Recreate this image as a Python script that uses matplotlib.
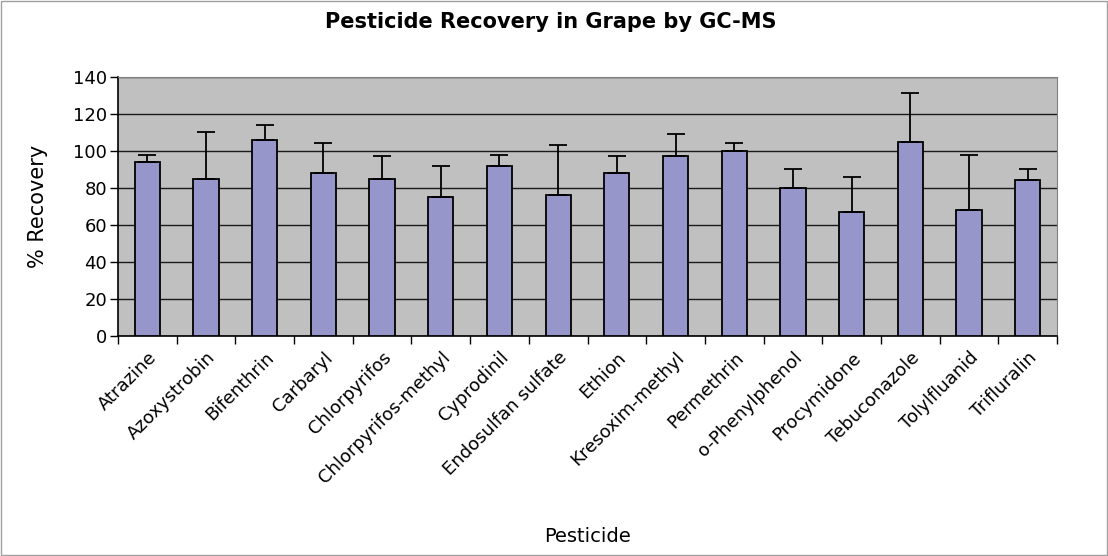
import matplotlib
matplotlib.use('Agg')
import matplotlib.pyplot as plt
import matplotlib.transforms as mtransforms
import numpy as np
from matplotlib.patches import Rectangle

# ── Data ──────────────────────────────────────────────────────────────────────
pesticides = ['Atrazine', 'Azoxystrobin', 'Bifenthrin', 'Carbaryl', 'Chlorpyrifos',
              'Chlorpyrifos-methyl', 'Cyprodinil', 'Endosulfan sulfate', 'Ethion',
              'Kresoxim-methyl', 'Permethrin', 'o-Phenylphenol', 'Procymidone',
              'Tebuconazole', 'Tolylfluanid', 'Trifluralin']
recovery = [94, 85, 106, 88, 85, 75, 92, 76, 88, 97, 100, 80, 67, 105, 68, 84]
error_up = [4, 25, 8, 16, 12, 17, 6, 27, 9, 12, 4, 10, 19, 26, 30, 6]
y_ticks = [0, 20, 40, 60, 80, 100, 120, 140]

FONT = 'DejaVu Sans'
plt.rcParams['font.family'] = FONT

fig = plt.figure(figsize=(11.08, 5.56), dpi=100)
fig.patch.set_facecolor('white')
fig.patches.append(Rectangle((0.0005, 0.001), 0.999, 0.998, transform=fig.transFigure,
                             fill=False, edgecolor='#a0a0a0', linewidth=1.0))

ax = fig.add_axes([0.1065, 0.3957, 0.8475, 0.4663])
ax.set_facecolor('#C0C0C0')

x = np.arange(len(pesticides))
ax.bar(x, recovery, width=0.43, color='#9696CA', edgecolor='black', linewidth=1.3, zorder=3)
ax.errorbar(x, recovery, yerr=[np.zeros(len(error_up)), error_up], fmt='none',
            ecolor='black', elinewidth=1.3, capsize=6.5, capthick=1.3, zorder=4)

ax.set_xlim(-0.5, len(pesticides) - 0.5)
ax.set_ylim(0, 140)
ax.set_yticks(y_ticks)
ax.yaxis.grid(True, color='#1a1a1a', linewidth=1.0, zorder=1)
ax.set_axisbelow(True)

ax.set_xticks(x)
ax.set_xticklabels(pesticides, rotation=45, ha='right', va='top', rotation_mode='anchor',
                   fontsize=13)
shift = mtransforms.ScaledTranslation(2 / 72, 0, fig.dpi_scale_trans)
for lab in ax.get_xticklabels():
    lab.set_transform(lab.get_transform() + shift)
ax.tick_params(axis='x', length=0, pad=9)
ax.set_xticks(np.arange(-0.5, len(pesticides)), minor=True)
ax.tick_params(axis='x', which='minor', length=6, width=1, direction='out')
ax.tick_params(axis='y', length=6, width=1, direction='out', labelsize=13, pad=2)

for s in ['top', 'right']:
    ax.spines[s].set_color('#808080')
for s in ['left', 'bottom']:
    ax.spines[s].set_color('black')
    ax.spines[s].set_linewidth(1.2)

fig.text(0.034, 0.6295, '% Recovery', ha='center', va='center', rotation=90, fontsize=15)
fig.text(0.53, 0.035, 'Pesticide', ha='center', va='center', fontsize=14)
fig.text(0.497, 0.96, 'Pesticide Recovery in Grape by GC-MS', ha='center', va='center',
         fontsize=15, fontweight='bold')

fig.savefig('out.png', dpi=100, facecolor='white')
